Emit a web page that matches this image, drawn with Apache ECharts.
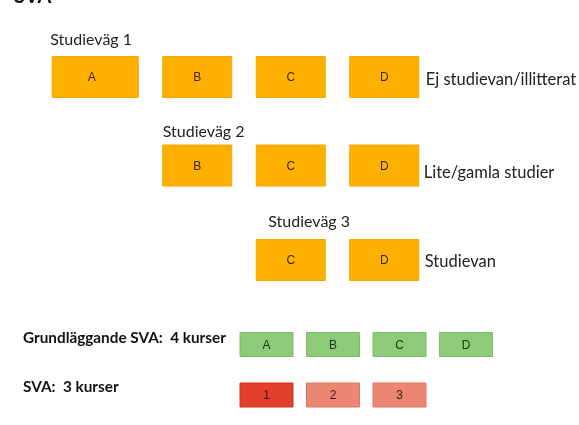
<!DOCTYPE html>
<html><head><meta charset="utf-8">
<script src="https://cdn.jsdelivr.net/npm/echarts@6/dist/echarts.min.js"></script>
<style>html,body{margin:0;padding:0;background:#fff}#c{width:579px;height:425px}</style>
</head><body><div id="c"></div>
<script>
// ---- data ----
const courses = ['A', 'B', 'C', 'D'];
const paths = ['Studieväg 1', 'Studieväg 2', 'Studieväg 3'];
const pathCourses = [['A', 'B', 'C', 'D'], ['B', 'C', 'D'], ['C', 'D']];
const pathDescriptions = ['Ej studievan/illitterat', 'Lite/gamla studier', 'Studievan'];
const svaTracks = ['Grundläggande SVA:  4 kurser', 'SVA:  3 kurser'];
const svaCourses = [['A', 'B', 'C', 'D'], ['1', '2', '3']];
const svaSlots = ['0', '1', '2', '3'];
const heading = 'SVA';

// ---- layout / style constants ----
const FONT = 'Lato';
const BOX_W = 69, BOX_H = 41, WIDE_EXTRA = 17, WIDE_LABEL_DX = -12;
const ROW_NUDGE = [0, -3, 0];
const HEAD_DX = [-2, 0, 12], HEAD_DY = [-17, -13, -18];
const DESC_DX = [7, 5, 6], DESC_DY = [3, 7.5, 2];
const SVA_W = 53, SVA_H = 24, SVA_LABEL_X = 23, SVA_LABEL_DY = [-6.5, -8];

const orangeData = [];
pathCourses.forEach((cs, p) => cs.forEach((c, i) => orangeData.push([c, paths[p], i, p])));
const svaData = [];
svaCourses.forEach((cs, r) => cs.forEach((c, i) => svaData.push([svaSlots[i], svaTracks[r], i, r])));

function renderOrange(params, api) {
  const i = api.value(2), p = api.value(3);
  const course = pathCourses[p][i];
  const pt = api.coord([api.value(0), api.value(1)]);
  const cx = pt[0], cy = pt[1] + ROW_NUDGE[p];
  const wide = (p === 0 && i === 0);
  const w = BOX_W + (wide ? WIDE_EXTRA : 0);
  const x0 = cx - BOX_W / 2 - (wide ? WIDE_EXTRA : 0);
  const y0 = cy - BOX_H / 2;
  const children = [
    { type: 'rect', shape: { x: x0, y: y0, width: w, height: BOX_H },
      style: { fill: '#FFB000', stroke: '#F2A600', lineWidth: 1 } },
    { type: 'text', x: cx + (wide ? WIDE_LABEL_DX : 0), y: cy + 1,
      style: { text: course, fill: '#3a2600', font: '12px "Liberation Sans"', align: 'center', verticalAlign: 'middle' } }
  ];
  if (i === 0) {
    children.push({ type: 'text', x: x0 + HEAD_DX[p], y: y0 + HEAD_DY[p],
      style: { text: paths[p], fill: '#222', font: '16px ' + FONT, align: 'left', verticalAlign: 'middle' } });
  }
  if (i === pathCourses[p].length - 1) {
    children.push({ type: 'text', x: x0 + w + DESC_DX[p], y: cy + DESC_DY[p],
      style: { text: pathDescriptions[p], fill: '#222', font: '16.5px ' + FONT, align: 'left', verticalAlign: 'middle' } });
  }
  return { type: 'group', children };
}

function renderSva(params, api) {
  const i = api.value(2), r = api.value(3);
  const label = svaCourses[r][i];
  const pt = api.coord([api.value(0), api.value(1)]);
  const cx = pt[0], cy = pt[1];
  let fill, stroke, tc;
  if (r === 0) { fill = '#8DCB7B'; stroke = '#7BBE69'; tc = '#1a3510'; }
  else if (i === 0) { fill = '#E2402C'; stroke = '#CF3424'; tc = '#4a100a'; }
  else { fill = '#EA8672'; stroke = '#DF7662'; tc = '#4a140c'; }
  const children = [
    { type: 'rect', shape: { x: cx - SVA_W / 2, y: cy - SVA_H / 2, width: SVA_W, height: SVA_H },
      style: { fill, stroke, lineWidth: 1 } },
    { type: 'text', x: cx, y: cy + 1,
      style: { text: label, fill: tc, font: '12px "Liberation Sans"', align: 'center', verticalAlign: 'middle' } }
  ];
  if (i === 0) {
    children.push({ type: 'text', x: SVA_LABEL_X, y: cy + SVA_LABEL_DY[r],
      style: { text: svaTracks[r], fill: '#111', font: 'bold 15.3px ' + FONT, align: 'left', verticalAlign: 'middle' } });
  }
  return { type: 'group', children };
}

const chart = echarts.init(document.getElementById('c'), null, { renderer: 'canvas' });
chart.setOption({
  animation: false,
  backgroundColor: '#ffffff',
  title: { text: heading, left: 9, top: -18, textStyle: { fontFamily: FONT, fontWeight: 'bold', fontSize: 20, color: '#111' } },
  grid: [
    { left: 57, width: 374, top: 31.25, height: 274.5 },
    { left: 233.25, width: 266, top: 319.25, height: 101 }
  ],
  xAxis: [
    { type: 'category', data: courses, gridIndex: 0, show: false },
    { type: 'category', data: svaSlots, gridIndex: 1, show: false }
  ],
  yAxis: [
    { type: 'category', data: paths, gridIndex: 0, inverse: true, show: false },
    { type: 'category', data: svaTracks, gridIndex: 1, inverse: true, show: false }
  ],
  series: [
    { type: 'custom', xAxisIndex: 0, yAxisIndex: 0, renderItem: renderOrange, data: orangeData, encode: { x: 0, y: 1 } },
    { type: 'custom', xAxisIndex: 1, yAxisIndex: 1, renderItem: renderSva, data: svaData, encode: { x: 0, y: 1 } }
  ]
});
</script>
</body></html>
